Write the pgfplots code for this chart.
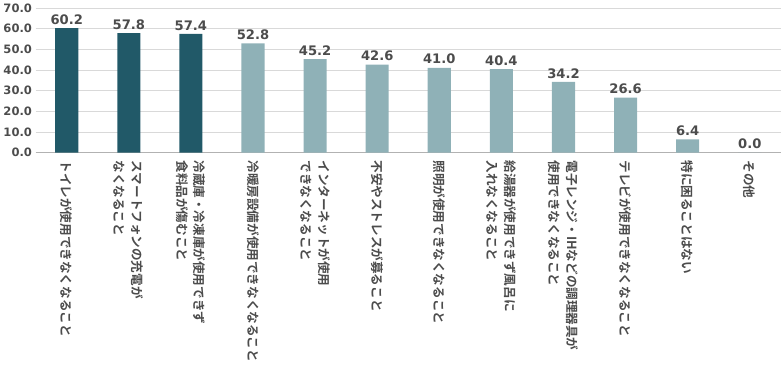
\documentclass[border=0pt]{standalone}
\usepackage{pgfplots}
\pgfplotsset{compat=1.18}
\usepackage{fontspec}
\setmainfont{Noto Sans CJK JP}[BoldFont={Noto Sans CJK JP Bold}]
\newfontfamily\numfont{DejaVu Sans}
\definecolor{dark}{HTML}{215968}
\definecolor{light}{HTML}{8FB1B7}
\begin{document}
\begin{tikzpicture}
\begin{axis}[
  scale only axis, width=710pt, height=138pt,
  xmin=-0.5, xmax=11.5, ymin=0, ymax=70,
  ytick={0,10,...,70},
  yticklabel style={font=\numfont\bfseries\fontsize{11}{11}\selectfont, text=black!70},
  /pgf/number format/assume math mode=true,
  yticklabel={\pgfmathprintnumber[fixed,fixed zerofill,precision=1]{\tick}},
  ymajorgrids, grid style={black!15},
  axis x line*=bottom, axis y line*=left,
  y axis line style={draw=none}, x axis line style={black!30},
  major tick length=0pt,
  xtick={0,...,11},
  xticklabels={
    トイレが使用できなくなること,
    スマートフォンの充電が\\なくなること,
    冷蔵庫・冷凍庫が使用できず\\食料品が傷むこと,
    冷暖房設備が使用できなくなること,
    インターネットが使用\\できなくなること,
    不安やストレスが募ること,
    照明が使用できなくなること,
    給湯器が使用できず風呂に\\入れなくなること,
    電子レンジ・IHなどの調理器具が\\使用できなくなること,
    テレビが使用できなくなること,
    特に困ることはない,
    その他},
  xticklabel style={rotate=-90, anchor=west, align=left, xshift=4pt, font=\bfseries\fontsize{12}{17}\selectfont, text=black!70},
  nodes near coords,
  nodes near coords style={font=\numfont\bfseries\fontsize{12.5}{12.5}\selectfont, text=black!70,
    /pgf/number format/.cd, fixed, fixed zerofill, precision=1},
  bar width=22pt,
]
\addplot[ybar, fill=dark, draw=none] coordinates {(0,60.2) (1,57.8) (2,57.4)};
\addplot[ybar, fill=light, draw=none] coordinates {(3,52.8) (4,45.2) (5,42.6) (6,41.0) (7,40.4) (8,34.2) (9,26.6) (10,6.4) (11,0.0)};
\end{axis}
\end{tikzpicture}
\end{document}
